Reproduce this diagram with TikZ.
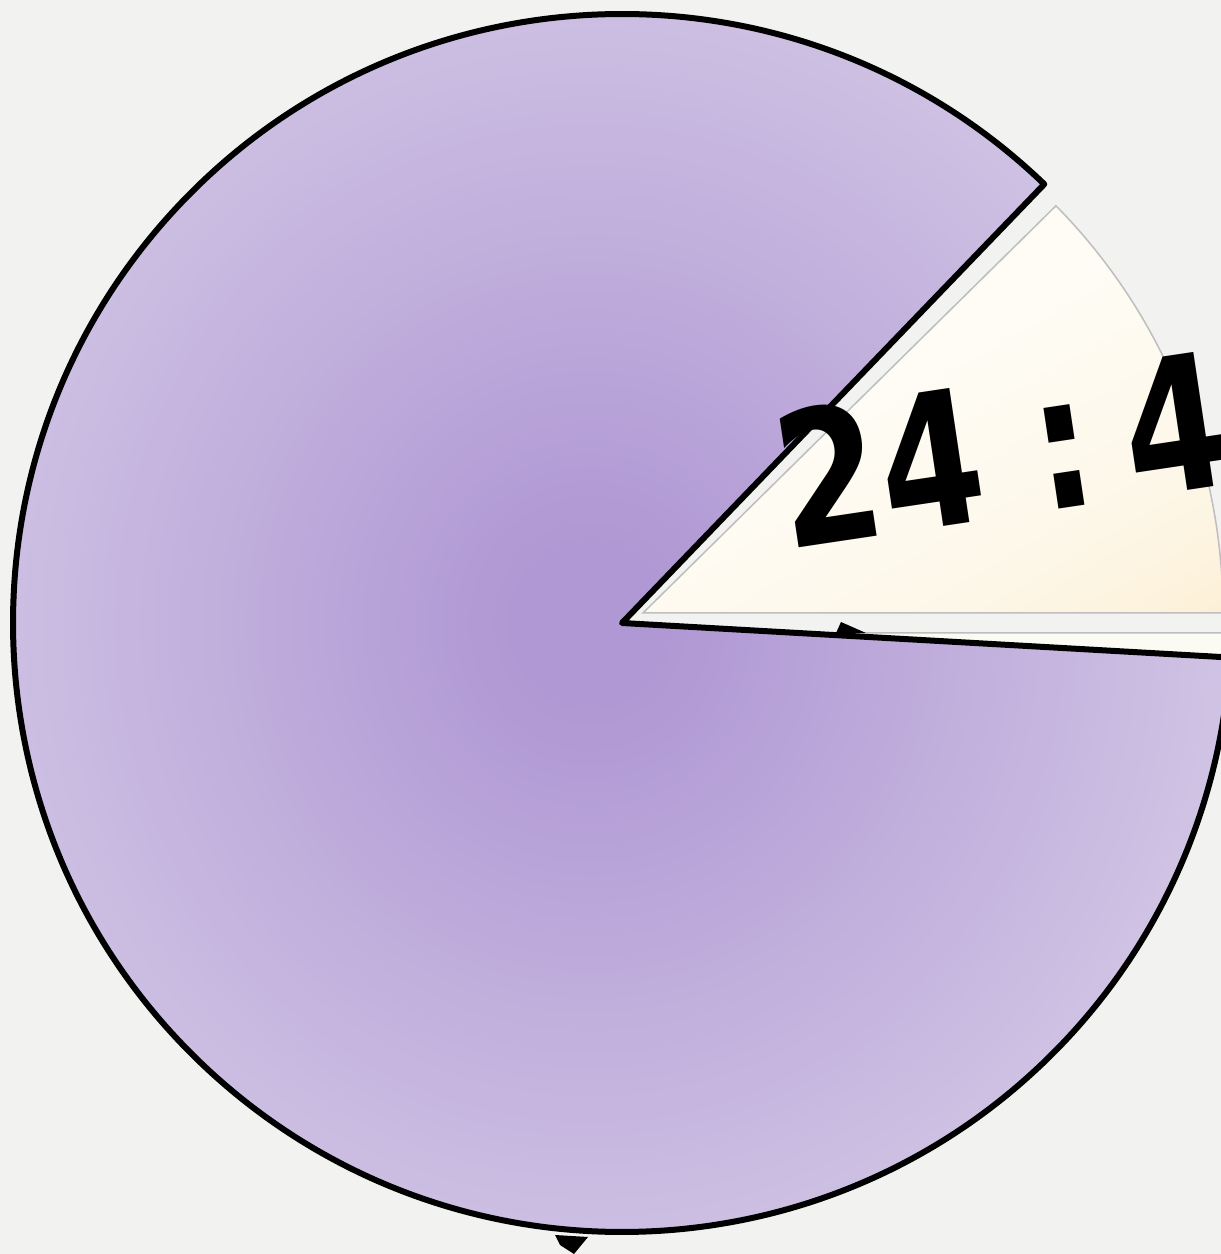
\documentclass[tikz,border=0pt]{standalone}
\usepackage{fontspec}
\newfontfamily\labelfont{DejaVu Sans}
\definecolor{bg}{HTML}{F2F2F1}
\definecolor{pcen}{HTML}{B098D4}
\definecolor{pedge}{HTML}{D4C9E6}
\definecolor{creamA}{HTML}{FEFCF5}
\definecolor{creamM}{HTML}{FDF7E8}
\definecolor{creamB}{HTML}{FCE8C4}
\definecolor{edgegray}{HTML}{BEBEBE}
\definecolor{sliverfill}{HTML}{FCFBF3}
\pgfdeclareradialshading{purp}{\pgfpoint{0bp}{0bp}}{color(0bp)=(pcen); color(3bp)=(pcen); color(28bp)=(pedge); color(60bp)=(pedge)}
\pgfdeclareverticalshading{cream}{100bp}{color(0bp)=(creamB); color(30bp)=(creamM); color(55bp)=(creamA); color(100bp)=(creamA)}
\tikzset{
  outline/.style={draw=black, line width=3pt, line join=round},
  thingray/.style={draw=edgegray, line width=0.75pt},
  ratiotext/.style={font=\labelfont\bfseries\fontsize{93pt}{110pt}\selectfont, inner sep=0pt, anchor=base west}
}
\begin{document}
\begin{tikzpicture}[x=0.5pt,y=0.5pt]
\useasboundingbox (0,0) rectangle (1221,1254);
\clip (0,0) rectangle (1221,1254);
\fill[bg] (0,0) rectangle (1221,1254);
\coordinate (pc) at (622,631);
\coordinate (cc) at (643,641);
% thin sliver under the cut
\path[fill=sliverfill, thingray] (798,621) -- (1240,621) -- (1240,596) -- cycle;
% cream wedge
\shadedraw[shading=cream, shading angle=30, thingray] (cc) -- ++(0:580) arc[start angle=0, end angle=44.6, radius=580] -- cycle;
% purple pie
\shadedraw[shading=purp, outline] (pc) -- ++(46.1:609) arc[start angle=46.1, end angle=356.75, radius=609] -- cycle;
% label
\node[ratiotext, rotate=8.5] (ratio) at (787,704) {\scalebox{0.8}[1]{24\hspace{0.34em}:\hspace{0.22em}4}};
% small black marks
\fill (836,621) -- (841,632) -- (866,621) -- cycle;
\fill (555,19) -- (560,9) -- (574,0) -- (588,17) -- cycle;
\fill (12,656) -- (16,663) -- (16,653) -- cycle;
\end{tikzpicture}
\end{document}
